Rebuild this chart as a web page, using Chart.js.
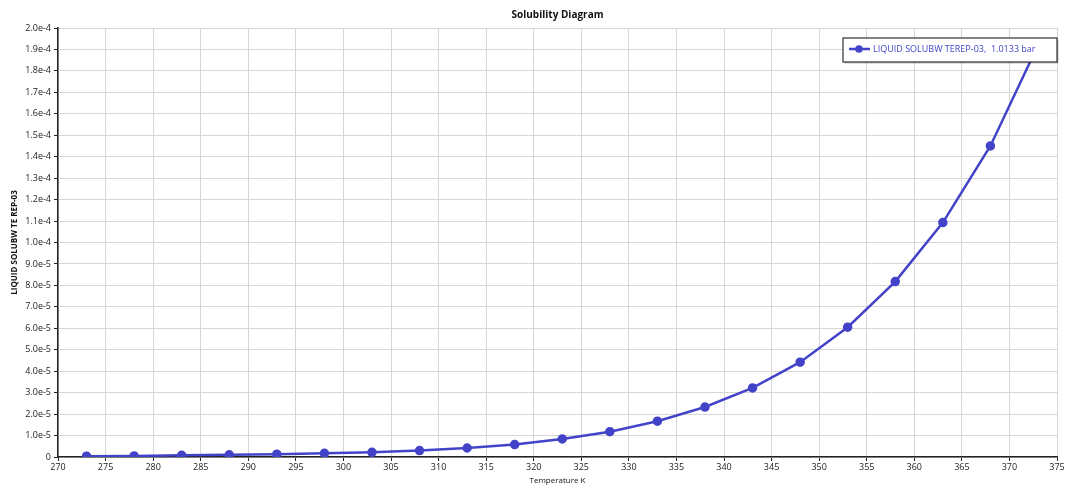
<!DOCTYPE html>
<html>
<head>
<meta charset="utf-8">
<script src="https://cdn.jsdelivr.net/npm/chart.js@4"></script>
<style>
  html, body { margin: 0; padding: 0; background: #fff; }
  #wrap { width: 1065px; height: 486px; }
</style>
</head>
<body>
<div id="wrap"><canvas id="solChart" width="1065" height="486"></canvas></div>
<script>
// data
const temperatures = [273, 278, 283, 288, 293, 298, 303, 308, 313, 318, 323, 328, 333, 338, 343, 348, 353, 358, 363, 368, 373];
const solubility = [0.4e-6, 0.5e-6, 0.8e-6, 1.0e-6, 1.3e-6, 1.7e-6, 2.2e-6, 3.0e-6, 4.2e-6, 5.8e-6, 8.4e-6,
    1.18e-5, 1.67e-5, 2.33e-5, 3.22e-5, 4.42e-5, 6.05e-5, 8.18e-5, 1.093e-4, 1.45e-4, 1.92e-4];
const seriesLabel = 'LIQUID SOLUBW TEREP-03,  1.0133 bar';
const yTitle = 'LIQUID SOLUBW TE REP-03';
const xTitle = 'Temperature K';

const lineColor = '#4343c9';
const fontFamily = '"Open Sans", "DejaVu Sans", sans-serif';

// legend box drawn on top of the plot, like the original
const boxLegend = {
    id: 'boxLegend',
    afterDatasetsDraw(chart) {
        const ctx = chart.ctx;
        const a = chart.chartArea;
        const w = 214, h = 24;
        const x = a.right - w, y = a.top + 10;
        ctx.save();
        ctx.fillStyle = 'rgba(0,0,0,0.25)';
        ctx.fillRect(x + 1.5, y + 1.5, w, h);
        ctx.fillStyle = '#fff';
        ctx.fillRect(x, y, w, h);
        ctx.strokeStyle = '#333';
        ctx.lineWidth = 1.2;
        ctx.strokeRect(x, y, w, h);
        ctx.strokeStyle = lineColor;
        ctx.lineWidth = 2.5;
        ctx.beginPath();
        ctx.moveTo(x + 6, y + 11);
        ctx.lineTo(x + 27, y + 11);
        ctx.stroke();
        ctx.fillStyle = lineColor;
        ctx.beginPath();
        ctx.arc(x + 16, y + 11, 3.8, 0, Math.PI * 2);
        ctx.fill();
        ctx.font = '9px ' + fontFamily;
        ctx.textBaseline = 'middle';
        ctx.fillText(seriesLabel, x + 30, y + 11);
        ctx.restore();
    }
};

function yLabel(v) {
    if (Math.abs(v) < 1e-12) return '0';
    const exp = Math.floor(Math.log10(Math.abs(v)) + 1e-9);
    const mant = v / Math.pow(10, exp);
    return mant.toFixed(1) + 'e' + exp;
}

new Chart(document.getElementById('solChart').getContext('2d'), {
    type: 'line',
    data: {
        datasets: [{
            label: seriesLabel,
            data: temperatures.map((t, i) => ({x: t, y: solubility[i]})),
            borderColor: lineColor,
            backgroundColor: lineColor,
            borderWidth: 2.5,
            pointRadius: 3.5,
            pointHoverRadius: 3.5,
            tension: 0
        }]
    },
    options: {
        responsive: false,
        animation: false,
        layout: {padding: {left: 0, right: 0, top: 0, bottom: 0}},
        plugins: {
            legend: {display: false},
            tooltip: {enabled: false},
            title: {
                display: true,
                text: 'Solubility Diagram',
                fullSize: false,
                color: '#111',
                font: {family: fontFamily, size: 10, weight: 'bold'},
                padding: {top: 9, bottom: 7}
            }
        },
        scales: {
            x: {
                type: 'linear',
                min: 270,
                max: 375,
                afterFit(s) { s.height = 29; s.paddingLeft = 0; s.paddingRight = 8; },
                ticks: {stepSize: 5, color: '#222', padding: 1, maxRotation: 0, font: {family: fontFamily, size: 9}},
                grid: {color: '#d6d6d6', lineWidth: 1, tickColor: '#222', tickLength: 4},
                border: {color: '#222', width: 1.5},
                title: {display: true, text: xTitle, color: '#111', padding: 0, font: {family: fontFamily, size: 8}}
            },
            y: {
                min: 0,
                max: 2e-4,
                afterFit(s) { s.width = 58; },
                ticks: {stepSize: 1e-5, color: '#222', padding: 3, font: {family: fontFamily, size: 9},
                    callback: v => yLabel(v)},
                grid: {color: '#d6d6d6', lineWidth: 1, tickColor: '#222', tickLength: 4},
                border: {color: '#222', width: 1.5},
                title: {display: true, text: yTitle, color: '#111', padding: {top: 10, bottom: 0},
                    font: {family: fontFamily, size: 8, weight: 'bold'}}
            }
        }
    },
    plugins: [boxLegend]
});
</script>
</body>
</html>
